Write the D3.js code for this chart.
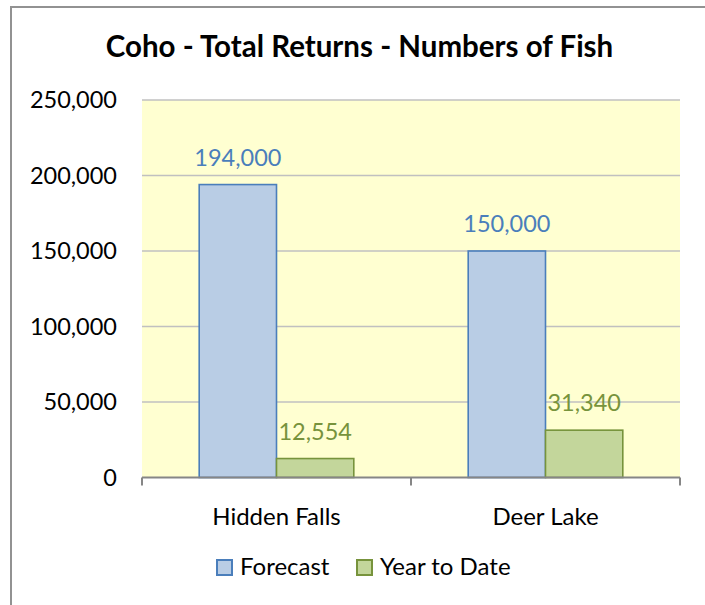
<!DOCTYPE html>
<html>
<head>
<meta charset="utf-8">
<script src="https://cdn.jsdelivr.net/npm/d3@7"></script>
<style>
  body { margin: 0; background: #fff; }
  svg { display: block; font-family: Lato, "Open Sans", sans-serif; }
</style>
</head>
<body>
<svg width="705" height="605"></svg>
<script>
var categories = ["Hidden Falls", "Deer Lake"];
var seriesNames = ["Forecast", "Year to Date"];
var forecast = [194000, 150000];
var yearToDate = [12554, 31340];
var yTicks = [0, 50000, 100000, 150000, 200000, 250000];

var fills = ["#B9CDE5", "#C3D69B"];
var strokes = ["#4A7EBB", "#77933C"];

var svg = d3.select("svg");

var plot = { left: 142, right: 680, top: 100, bottom: 477.5 };
var numSize = 23.5;
var wordSize = 24;

// chart border
svg.append("rect")
    .attr("x", 11)
    .attr("y", 7)
    .attr("width", 720)
    .attr("height", 640)
    .style("fill", "#fff")
    .style("stroke", "#929292")
    .style("stroke-width", 2);

var x = d3.scaleBand()
    .domain(categories)
    .range([plot.left, plot.right])
    .padding(0);

var xs = d3.scaleBand()
    .domain(seriesNames)
    .range([0, x.bandwidth()])
    .paddingInner(0)
    .paddingOuter(0.74);

var y = d3.scaleLinear()
    .domain([0, 250000])
    .range([plot.bottom, plot.top]);

// plot background
svg.append("rect")
    .attr("x", plot.left)
    .attr("y", plot.top)
    .attr("width", plot.right - plot.left)
    .attr("height", plot.bottom - plot.top)
    .style("fill", "#FFFFD1");

// gridlines
svg.append("g")
    .selectAll("line")
    .data(yTicks.slice(1))
    .enter()
    .append("line")
    .attr("x1", plot.left)
    .attr("x2", plot.right)
    .attr("y1", function (d) { return y(d); })
    .attr("y2", function (d) { return y(d); })
    .style("stroke", "#C0C0C0")
    .style("stroke-width", 1.5);

// y axis labels
var yAxis = svg.append("g")
    .attr("transform", "translate(" + plot.left + ",0)")
    .call(d3.axisLeft(y).tickValues(yTicks).tickSize(0).tickPadding(25).tickFormat(d3.format(",")));
yAxis.select(".domain").remove();
yAxis.selectAll("text")
    .style("font-family", "Lato, sans-serif")
    .style("font-size", numSize + "px")
    .style("fill", "#000");

// bars
var rows = categories.map(function (c, i) {
    return { cat: c, values: [forecast[i], yearToDate[i]] };
});

var groups = svg.selectAll(".grp")
    .data(rows)
    .enter()
    .append("g")
    .attr("class", "grp")
    .attr("transform", function (d) { return "translate(" + x(d.cat) + ",0)"; });

groups.selectAll("rect")
    .data(function (d) { return d.values; })
    .enter()
    .append("rect")
    .attr("x", function (d, i) { return xs(seriesNames[i]); })
    .attr("y", function (d) { return y(d); })
    .attr("width", xs.bandwidth())
    .attr("height", function (d) { return y(0) - y(d); })
    .style("fill", function (d, i) { return fills[i]; })
    .style("stroke", function (d, i) { return strokes[i]; })
    .style("stroke-width", 1.6);

// data labels
groups.selectAll("text")
    .data(function (d) { return d.values; })
    .enter()
    .append("text")
    .attr("x", function (d, i) { return xs(seriesNames[i]) + xs.bandwidth() / 2; })
    .attr("y", function (d) { return y(d) - 19; })
    .attr("text-anchor", "middle")
    .style("font-size", numSize + "px")
    .style("fill", function (d, i) { return strokes[i]; })
    .text(function (d) { return d3.format(",")(d); });

// x axis line and boundary ticks
svg.append("line")
    .attr("x1", plot.left)
    .attr("x2", plot.right)
    .attr("y1", y(0))
    .attr("y2", y(0))
    .style("stroke", "#868686")
    .style("stroke-width", 2);

var bounds = categories.map(function (c) { return x(c); }).concat([x(categories[1]) + x.bandwidth()]);
svg.append("g")
    .selectAll("line")
    .data(bounds)
    .enter()
    .append("line")
    .attr("x1", function (d) { return d; })
    .attr("x2", function (d) { return d; })
    .attr("y1", y(0))
    .attr("y2", y(0) + 8)
    .style("stroke", "#868686")
    .style("stroke-width", 2);

// category labels
svg.append("g")
    .selectAll("text")
    .data(categories)
    .enter()
    .append("text")
    .attr("x", function (d) { return x(d) + x.bandwidth() / 2; })
    .attr("y", 524.5)
    .attr("text-anchor", "middle")
    .style("font-size", wordSize + "px")
    .text(function (d) { return d; });

// title
svg.append("text")
    .attr("x", 359.5)
    .attr("y", 56.5)
    .attr("text-anchor", "middle")
    .style("font-size", "29.5px")
    .style("font-weight", "bold")
    .text("Coho - Total Returns - Numbers of Fish");

// legend
var legendX = [217, 357];
var legend = svg.append("g")
    .selectAll("g")
    .data(seriesNames)
    .enter()
    .append("g")
    .attr("transform", function (d, i) { return "translate(" + legendX[i] + ",560)"; });
legend.append("rect")
    .attr("width", 15)
    .attr("height", 15)
    .style("fill", function (d, i) { return fills[i]; })
    .style("stroke", function (d, i) { return strokes[i]; })
    .style("stroke-width", 2);
legend.append("text")
    .attr("x", 23)
    .attr("y", 15)
    .style("font-size", wordSize + "px")
    .text(function (d) { return d; });
</script>
</body>
</html>
